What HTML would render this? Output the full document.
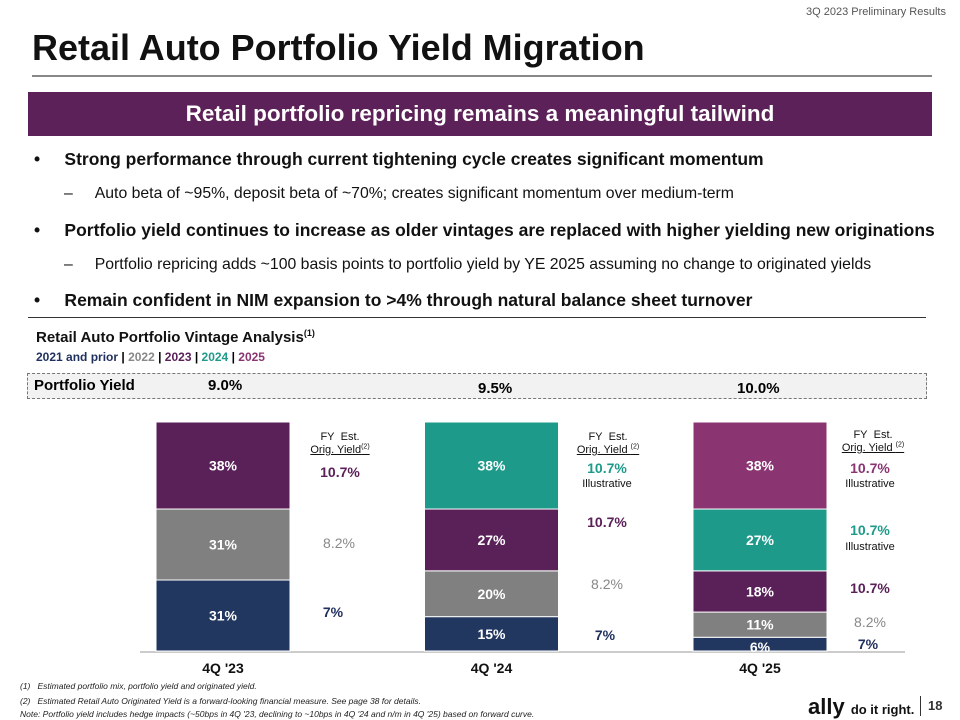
<!DOCTYPE html>
<html><head><meta charset="utf-8">
<style>
body{margin:0;width:960px;height:720px;background:#fff;font-family:"Liberation Sans",sans-serif;position:relative;overflow:hidden}
.a{position:absolute;white-space:nowrap}
.b{font-weight:bold}
.bul{font-size:17.5px;font-weight:bold;color:#111}
.sub{font-size:15.8px;color:#111}
.ann{font-size:11px;color:#111;text-align:center;position:absolute;width:90px}
.y{font-weight:bold;font-size:14px;position:absolute;width:70px;text-align:center}
.il{font-size:11px;color:#111;position:absolute;width:80px;text-align:center}
</style></head><body>
<div class="a" style="right:14px;top:6px;font-size:11px;color:#555">3Q 2023 Preliminary Results</div>
<div class="a b" style="left:32px;top:27px;font-size:36px;color:#111">Retail Auto Portfolio Yield Migration</div>
<div class="a" style="left:32px;top:75px;width:900px;height:2px;background:#888"></div>
<div class="a b" style="left:28px;top:92px;width:904px;height:44px;background:#5c2158;color:#fff;font-size:22.5px;line-height:44px;text-align:center">Retail portfolio repricing remains a meaningful tailwind</div>
<div class="a bul" style="left:34px;top:149px">•&nbsp;&nbsp;&nbsp;&nbsp;&nbsp;Strong performance through current tightening cycle creates significant momentum</div>
<div class="a sub" style="left:64px;top:185px">–&nbsp;&nbsp;&nbsp;&nbsp;&nbsp;Auto beta of ~95%, deposit beta of ~70%; creates significant momentum over medium-term</div>
<div class="a bul" style="left:34px;top:220px">•&nbsp;&nbsp;&nbsp;&nbsp;&nbsp;Portfolio yield continues to increase as older vintages are replaced with higher yielding new originations</div>
<div class="a sub" style="left:64px;top:256px">–&nbsp;&nbsp;&nbsp;&nbsp;&nbsp;Portfolio repricing adds ~100 basis points to portfolio yield by YE 2025 assuming no change to originated yields</div>
<div class="a bul" style="left:34px;top:290px">•&nbsp;&nbsp;&nbsp;&nbsp;&nbsp;Remain confident in NIM expansion to &gt;4% through natural balance sheet turnover</div>
<div class="a" style="left:28px;top:317px;width:898px;height:1px;background:#333"></div>
<div class="a b" style="left:36px;top:328px;font-size:15px;color:#111">Retail Auto Portfolio Vintage Analysis<sup style="font-size:9px">(1)</sup></div>
<div class="a b" style="left:36px;top:350px;font-size:12px"><span style="color:#1f2f5e">2021 and prior</span> | <span style="color:#888">2022</span> | <span style="color:#5a2058">2023</span> | <span style="color:#1e9a8a">2024</span> | <span style="color:#8a3472">2025</span></div>
<div class="a" style="left:27px;top:373px;width:898px;height:24px;border:1.5px dashed #777;background:#f2f2f2"></div>
<div class="a b" style="left:34px;top:377px;font-size:15px">Portfolio Yield</div>
<div class="a b" style="left:208px;top:377px;font-size:15px">9.0%</div>
<div class="a b" style="left:478px;top:380px;font-size:15px">9.5%</div>
<div class="a b" style="left:737px;top:380px;font-size:15px">10.0%</div>

<svg id="chart" class="a" style="left:0;top:0" width="960" height="720"></svg>

<div class="ann" style="left:295px;top:431px">FY&nbsp; Est.<br><u>Orig. Yield<sup style="font-size:7px">(2)</sup></u></div>
<div class="ann" style="left:563px;top:431px">FY&nbsp; Est.<br><u>Orig. Yield <sup style="font-size:7px">(2)</sup></u></div>
<div class="ann" style="left:828px;top:429px">FY&nbsp; Est.<br><u>Orig. Yield <sup style="font-size:7px">(2)</sup></u></div>

<div class="y" style="left:305px;top:464px;color:#5a2058">10.7%</div>
<div class="y" style="left:304px;top:535px;color:#888;font-weight:normal">8.2%</div>
<div class="y" style="left:298px;top:604px;color:#1f2f5e">7%</div>
<div class="y" style="left:572px;top:460px;color:#1e9a8a">10.7%</div>
<div class="il" style="left:567px;top:478px">Illustrative</div>
<div class="y" style="left:572px;top:514px;color:#5a2058">10.7%</div>
<div class="y" style="left:572px;top:576px;color:#888;font-weight:normal">8.2%</div>
<div class="y" style="left:570px;top:627px;color:#1f2f5e">7%</div>
<div class="y" style="left:835px;top:460px;color:#8a3472">10.7%</div>
<div class="il" style="left:830px;top:478px">Illustrative</div>
<div class="y" style="left:835px;top:522px;color:#1e9a8a">10.7%</div>
<div class="il" style="left:830px;top:541px">Illustrative</div>
<div class="y" style="left:835px;top:580px;color:#5a2058">10.7%</div>
<div class="y" style="left:835px;top:614px;color:#888;font-weight:normal">8.2%</div>
<div class="y" style="left:833px;top:636px;color:#1f2f5e">7%</div>

<div class="a" style="left:20px;top:681px;font-size:8.5px;font-style:italic;color:#222">(1)&nbsp;&nbsp;&nbsp;Estimated portfolio mix, portfolio yield and originated yield.</div>
<div class="a" style="left:20px;top:696px;font-size:8.5px;font-style:italic;color:#222">(2)&nbsp;&nbsp;&nbsp;Estimated Retail Auto Originated Yield is a forward-looking financial measure. See page 38 for details.</div>
<div class="a" style="left:20px;top:709px;font-size:8.5px;font-style:italic;color:#222">Note: Portfolio yield includes hedge impacts (~50bps in 4Q '23, declining to ~10bps in 4Q '24 and n/m in 4Q '25) based on forward curve.</div>
<div class="a b" style="left:808px;top:694px;font-size:22px;color:#111">ally <span style="font-size:13px">do it right.</span></div>
<div class="a" style="left:920px;top:696px;width:1px;height:20px;background:#333"></div>
<div class="a b" style="left:928px;top:698px;font-size:13px;color:#333">18</div>

<script>
const categories=["4Q '23","4Q '24","4Q '25"];
const vintages=["2021 and prior","2022","2023","2024","2025"];
const v2021=[31,15,6];
const v2022=[31,20,11];
const v2023=[38,27,18];
const v2024=[0,38,27];
const v2025=[0,0,38];
const colors=["#22375f","#808080","#5a2058","#1e9a8a","#8a3472"];
const series=[v2021,v2022,v2023,v2024,v2025];
const svg=document.getElementById('chart');
const NS="http://www.w3.org/2000/svg";
const baseY=651,plotH=229,barW=134;
const xPos=i=>156+i*268.5;
const yScale=v=>v/100*plotH;
const ax=document.createElementNS(NS,'line');
ax.setAttribute('x1',140);ax.setAttribute('x2',905);ax.setAttribute('y1',baseY+1);ax.setAttribute('y2',baseY+1);
ax.setAttribute('stroke','#ccc');ax.setAttribute('stroke-width','2');


svg.appendChild(ax);
categories.forEach((c,i)=>{
  let cum=0;
  series.forEach((s,k)=>{
    const v=s[i]; if(!v) return;
    const y0=baseY-yScale(cum), h=yScale(v); cum+=v;
    const r=document.createElementNS(NS,'rect');
    r.setAttribute('x',xPos(i));r.setAttribute('y',y0-h);r.setAttribute('width',barW);r.setAttribute('height',h);
    r.setAttribute('fill',colors[k]);r.setAttribute('stroke','#fff');r.setAttribute('stroke-width','1');
    
    
    svg.appendChild(r);
    const t=document.createElementNS(NS,'text');
    t.setAttribute('x',xPos(i)+barW/2);t.setAttribute('y',y0-h/2+(h<20?8:5));
    t.setAttribute('text-anchor','middle');t.setAttribute('fill','#fff');
    t.setAttribute('font-size','14');t.setAttribute('font-weight','bold');t.setAttribute('font-family','Liberation Sans, sans-serif');
    t.textContent=v+'%';
    
    
    svg.appendChild(t);
  });
  const l=document.createElementNS(NS,'text');
  l.setAttribute('x',xPos(i)+barW/2);l.setAttribute('y',baseY+22);
  l.setAttribute('text-anchor','middle');l.setAttribute('font-size','14');l.setAttribute('font-weight','bold');
  l.setAttribute('font-family','Liberation Sans, sans-serif');l.setAttribute('fill','#111');
  l.textContent=c;
  
  
  svg.appendChild(l);
});
</script>
</body></html>
